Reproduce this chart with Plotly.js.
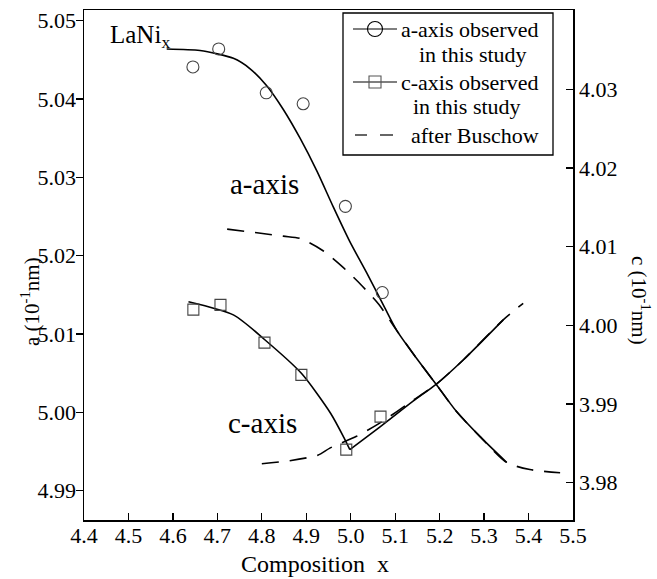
<!DOCTYPE html>
<html>
<head>
<meta charset="utf-8">
<script src="https://cdn.plot.ly/plotly-3.0.1.min.js"></script>
<style>html,body{margin:0;padding:0;background:#fff;}#chart{width:657px;height:579px;}</style>
</head>
<body>
<div id="chart"></div>
<script>
// ---- data ----
const xTickVals = [4.4, 4.5, 4.6, 4.7, 4.8, 4.9, 5.0, 5.1, 5.2, 5.3, 5.4, 5.5];
const aTickVals = [4.99, 5.00, 5.01, 5.02, 5.03, 5.04, 5.05];
const cTickVals = [3.98, 3.99, 4.00, 4.01, 4.02, 4.03];

// a-axis observed (left axis)
const aObsX = [4.645, 4.703, 4.810, 4.893, 4.988, 5.071];
const aObsY = [5.0441, 5.0464, 5.0408, 5.0394, 5.0263, 5.0153];
// c-axis observed (right axis)
const cObsX = [4.646, 4.707, 4.806, 4.889, 4.990, 5.067];
const cObsY = [4.0020, 4.0026, 3.9978, 3.9937, 3.9842, 3.9884];

// fitted a-axis curve (left axis)
const aFitX = [4.586, 4.661, 4.736, 4.773, 4.811, 4.848, 4.886, 4.924, 4.961, 4.998, 5.036, 5.077, 5.103, 5.148, 5.192, 5.238, 5.291, 5.351];
const aFitY = [5.0464, 5.0462, 5.0452, 5.0439, 5.0417, 5.0387, 5.0350, 5.0308, 5.0262, 5.0218, 5.0178, 5.0133, 5.0105, 5.0069, 5.0036, 5.0001, 4.9969, 4.9936];
// fitted c-axis curve (right axis), falling and rising branches
const cFitDownX = [4.635, 4.737, 4.806, 4.889, 4.955, 4.985, 4.998];
const cFitDownY = [4.0030, 4.0013, 3.9982, 3.9939, 3.9888, 3.9857, 3.9842];
const cFitUpX = [4.998, 5.066, 5.141, 5.192, 5.253, 5.343];
const cFitUpY = [3.9842, 3.9871, 3.9904, 3.9925, 3.9956, 4.0007];

// after Buschow: a (left axis) and c (right axis)
const buschAX = [4.722, 4.848, 4.886, 4.936, 4.981, 5.023, 5.063, 5.103, 5.148, 5.192, 5.238, 5.291, 5.351, 5.403, 5.471];
const buschAY = [5.0234, 5.0225, 5.0222, 5.0207, 5.0186, 5.0163, 5.0138, 5.0105, 5.0069, 5.0036, 5.0001, 4.9969, 4.9936, 4.9927, 4.9923];
const buschCX = [4.800, 4.863, 4.926, 4.953, 5.013, 5.066, 5.141, 5.192, 5.253, 5.343, 5.388];
const buschCY = [3.9824, 3.9828, 3.9835, 3.9844, 3.9859, 3.9876, 3.9905, 3.9925, 3.9956, 4.0007, 4.0028];

const legendLabels = ["a-axis observed", "in this study", "c-axis observed", "in this study", "after Buschow"];

// ---- drawing ----
const FONT = "Liberation Serif";
const DASH = "17px,11px";
const MK = "#444";
const LW = 1.6;

const traces = [
  {x: buschAX, y: buschAY, yaxis: "y", mode: "lines", line: {color: "#000", width: LW, dash: DASH, shape: "spline", smoothing: 0.7}},
  {x: buschCX, y: buschCY, yaxis: "y2", mode: "lines", line: {color: "#000", width: LW, dash: DASH, shape: "spline", smoothing: 0.7}},
  {x: aFitX, y: aFitY, yaxis: "y", mode: "lines", line: {color: "#000", width: LW, shape: "spline", smoothing: 0.7}},
  {x: cFitDownX, y: cFitDownY, yaxis: "y2", mode: "lines", line: {color: "#000", width: LW, shape: "spline", smoothing: 0.7}},
  {x: cFitUpX, y: cFitUpY, yaxis: "y2", mode: "lines", line: {color: "#000", width: LW, shape: "spline", smoothing: 0.7}},
  {x: aObsX, y: aObsY, yaxis: "y", mode: "markers", marker: {symbol: "circle-open", size: 12, color: MK, line: {width: 1.1, color: MK}}},
  {x: cObsX, y: cObsY, yaxis: "y2", mode: "markers", marker: {symbol: "square-open", size: 11, color: MK, line: {width: 1.1, color: MK}}}
];

// plot area in pixels: x 84..573, y 10..520
const L = 84, R = 573, T = 10, B = 520;
const px = v => (v - L) / (R - L);
const py = v => (B - v) / (B - T);

const ann = (text, x, y, size, opts) => Object.assign({
  text: text, xref: "paper", yref: "paper", x: px(x), y: py(y),
  showarrow: false, font: {family: FONT, size: size, color: "#000"},
  xanchor: "center", yanchor: "middle"
}, opts || {});

const annotations = [
  ann("LaNi<sub>x</sub>", 108, 36, 25, {xanchor: "left"}),
  ann("a-axis", 264, 184, 29),
  ann("c-axis", 262, 423, 29),
  ann("Composition&nbsp;&nbsp;x", 315, 564, 24),
  ann("a (10<sup>-1</sup>nm)", 30, 302, 21, {textangle: -90}),
  ann("c (10<sup>-1</sup>nm)", 641, 300, 21, {textangle: 90}),
  ann(legendLabels[0], 399, 30, 22, {xanchor: "left"}),
  ann(legendLabels[1], 417, 54, 22, {xanchor: "left"}),
  ann(legendLabels[2], 399, 82, 22, {xanchor: "left"}),
  ann(legendLabels[3], 411, 106, 22, {xanchor: "left"}),
  ann(legendLabels[4], 409, 135, 22, {xanchor: "left"})
];

const ln = {color: "#000", width: 1.2};
const shapes = [
  {type: "rect", xref: "paper", yref: "paper", x0: px(343), x1: px(553), y0: py(155), y1: py(13), line: {color: "#000", width: 1.3}},
  {type: "line", xref: "paper", yref: "paper", x0: px(353), x1: px(397), y0: py(29), y1: py(29), line: ln},
  {type: "circle", xref: "paper", yref: "paper", x0: px(367.5), x1: px(382.5), y0: py(36.5), y1: py(21.5), line: {color: "#000", width: 1.1}},
  {type: "line", xref: "paper", yref: "paper", x0: px(353), x1: px(397), y0: py(82), y1: py(82), line: ln},
  {type: "rect", xref: "paper", yref: "paper", x0: px(369), x1: px(381), y0: py(88), y1: py(76), line: {color: "#555", width: 1.1}},
  {type: "line", xref: "paper", yref: "paper", x0: px(355), x1: px(367), y0: py(135), y1: py(135), line: ln},
  {type: "line", xref: "paper", yref: "paper", x0: px(380), x1: px(393), y0: py(135), y1: py(135), line: ln}
];

const axisCommon = {
  showgrid: false, zeroline: false, showline: true, linecolor: "#000", linewidth: 1.5,
  tickcolor: "#000", tickwidth: 1.3, ticklen: 7,
  tickfont: {family: FONT, size: 22, color: "#000"}
};

const layout = {
  width: 657, height: 579,
  margin: {l: L, r: 657 - R, t: T, b: 579 - B, pad: 0},
  paper_bgcolor: "#fff", plot_bgcolor: "#fff",
  showlegend: false,
  font: {family: FONT, color: "#000", size: 22},
  xaxis: Object.assign({}, axisCommon, {
    range: [4.4, 5.5], tickvals: xTickVals, ticktext: xTickVals.map(v => v.toFixed(1)),
    ticks: "inside", mirror: true, ticklabelstandoff: -5
  }),
  yaxis: Object.assign({}, axisCommon, {
    range: [4.98626, 5.05137], tickvals: aTickVals, ticktext: aTickVals.map(v => v.toFixed(2)),
    ticks: "outside", ticklabelstandoff: -5
  }),
  yaxis2: Object.assign({}, axisCommon, {
    range: [3.97526, 4.04008], tickvals: cTickVals, ticktext: cTickVals.map(v => v.toFixed(2)),
    ticks: "inside", overlaying: "y", side: "right"
  }),
  annotations: annotations,
  shapes: shapes
};

Plotly.newPlot("chart", traces, layout, {displayModeBar: false, staticPlot: true});
</script>
</body>
</html>
